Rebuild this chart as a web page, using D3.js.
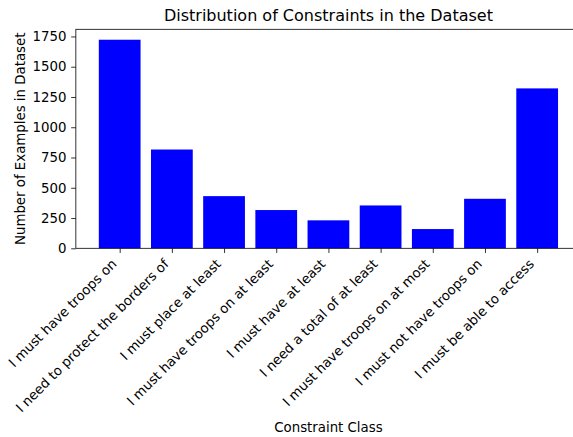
<!DOCTYPE html>
<html><head><meta charset="utf-8">
<script src="https://cdn.jsdelivr.net/npm/d3@7"></script>
<style>body{margin:0;background:#fff}svg{display:block}text{font-family:"DejaVu Sans",sans-serif;fill:#000}</style>
</head><body>
<script>
const categories = ["I must have troops on","I need to protect the borders of","I must place at least","I must have troops on at least","I must have at least","I need a total of at least","I must have troops on at most","I must not have troops on","I must be able to access"];
const counts = [1723, 816, 431, 316, 231, 354, 159, 409, 1321];
const yTicks = [0, 250, 500, 750, 1000, 1250, 1500, 1750];

const W = 573, H = 437;
const L = 75.85, R = 581, T = 29.3, B = 248.3;
const fs = 13.33, tk = 4.67;
const svg = d3.select("body").append("svg").attr("width", W).attr("height", H);

const n = categories.length;
const lo = -0.4, hi = n - 1 + 0.4, m = 0.05 * (hi - lo);
const x = d3.scaleLinear().domain([lo - m, hi + m]).range([L, R]);
const y = d3.scaleLinear().domain([0, d3.max(counts) * 1.05]).range([B, T]);

svg.append("g").selectAll("rect").data(counts).join("rect")
  .attr("x", (d, i) => x(i - 0.4)).attr("width", (d, i) => x(i + 0.4) - x(i - 0.4))
  .attr("y", d => y(d)).attr("height", d => y(0) - y(d))
  .attr("fill", "#0000ff");

// y axis
const ya = svg.append("g").attr("transform", `translate(${L},0)`)
  .call(d3.axisLeft(y).tickValues(yTicks).tickSize(tk).tickPadding(tk).tickFormat(d3.format("d")));
ya.select(".domain").remove();
ya.selectAll("text").style("font-size", fs + "px").style("font-family", "DejaVu Sans");
ya.selectAll("line").attr("stroke", "#000").attr("stroke-width", 0.8);

// x axis ticks
const xa = svg.append("g").attr("transform", `translate(0,${B})`)
  .call(d3.axisBottom(x).tickValues(d3.range(n)).tickSize(tk).tickFormat(""));
xa.select(".domain").remove();
xa.selectAll("line").attr("stroke", "#000").attr("stroke-width", 0.8);

// rotated labels (matplotlib rotation=45, ha='right')
const asc = 0.76 * fs, desc = 0.24 * fs, pad = 2 * tk;
svg.append("g").selectAll("text").data(categories).join("text")
  .attr("transform", (d, i) => `translate(${x(i) - desc * 0.707},${B + pad + asc * 0.707}) rotate(-45)`)
  .attr("text-anchor", "end").style("font-size", fs + "px").text(d => d);

// spines
const sp = svg.append("g").attr("fill", "none").attr("stroke", "#000").attr("stroke-width", 0.8);
sp.append("rect").attr("x", L).attr("y", T).attr("width", R - L).attr("height", B - T);

svg.append("text").attr("x", (L + R) / 2).attr("y", T - 8).attr("text-anchor", "middle")
  .style("font-size", "16px").text("Distribution of Constraints in the Dataset");
svg.append("text").attr("x", (L + R) / 2).attr("y", 432).attr("text-anchor", "middle")
  .style("font-size", fs + "px").text("Constraint Class");
svg.append("text").attr("transform", `translate(25,${(T + B) / 2}) rotate(-90)`).attr("text-anchor", "middle")
  .style("font-size", fs + "px").text("Number of Examples in Dataset");
</script>
</body></html>
